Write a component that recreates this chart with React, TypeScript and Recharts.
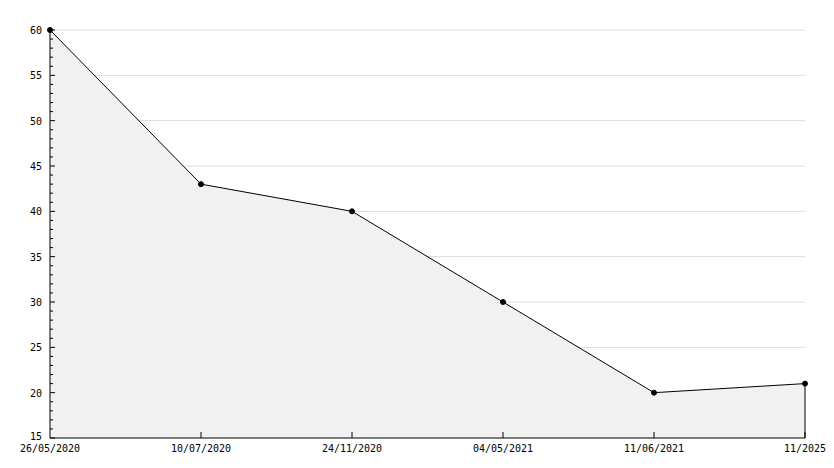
import { AreaChart, Area, XAxis, YAxis, CartesianGrid, ReferenceLine } from "recharts";

const dates = ["26/05/2020", "10/07/2020", "24/11/2020", "04/05/2021", "11/06/2021", "11/2025"];
const values = [60, 43, 40, 30, 20, 21];
const yTicks = Array.from({ length: 46 }, (_, i) => 15 + i);
const majorTicks = [20, 25, 30, 35, 40, 45, 50, 55, 60];

const data = dates.map((d, i) => ({ date: d, value: values[i] }));
const FONT = "'DejaVu Sans Mono', monospace";

function YTick({ x, y, payload }: any) {
  const major = payload.value % 5 === 0;
  return (
    <g>
      <line x1={x} x2={x + (major ? 5 : 3)} y1={y} y2={y} stroke="#000" />
      {major && (
        <text
          x={x - 8}
          y={y}
          dy={payload.value === 15 ? 2 : 4}
          textAnchor="end"
          fontSize={10}
          fontFamily={FONT}
          fill="#000"
        >
          {payload.value}
        </text>
      )}
    </g>
  );
}

function XTick({ x, y, payload, index }: any) {
  return (
    <g>
      {index > 0 && <line x1={x} x2={x} y1={y} y2={y - 6} stroke="#000" />}
      <text x={x} y={y} dy={14} textAnchor="middle" fontSize={10} fontFamily={FONT} fill="#000">
        {payload.value}
      </text>
    </g>
  );
}

export default function App() {
  return (
    <div style={{ position: "absolute", left: 0, top: 0, background: "#fff" }}>
      <AreaChart width={834} height={468} data={data} margin={{ top: 30, right: 29, left: 0, bottom: 0 }}>
        <CartesianGrid vertical={false} stroke="#dcdcdc" horizontalValues={majorTicks} />
        <XAxis
          dataKey="date"
          padding={{ left: 0, right: 0 }}
          interval={0}
          height={30}
          tickSize={0}
          tickMargin={0}
          tick={<XTick />}
          axisLine={{ stroke: "#000" }}
          tickLine={false}
        />
        <YAxis
          domain={[15, 60]}
          ticks={yTicks}
          interval={0}
          width={50}
          tickSize={0}
          tickMargin={0}
          tick={<YTick />}
          axisLine={{ stroke: "#000" }}
          tickLine={false}
        />
        <Area
          type="linear"
          dataKey="value"
          baseValue={15}
          stroke="#000"
          strokeWidth={1}
          fill="#f1f1f1"
          fillOpacity={1}
          dot={{ r: 2.5, fill: "#000", stroke: "#000", strokeWidth: 1 }}
          isAnimationActive={false}
        />
        <ReferenceLine
          segment={[
            { x: dates[dates.length - 1], y: 15 },
            { x: dates[dates.length - 1], y: values[values.length - 1] },
          ]}
          stroke="#000"
        />
      </AreaChart>
    </div>
  );
}
